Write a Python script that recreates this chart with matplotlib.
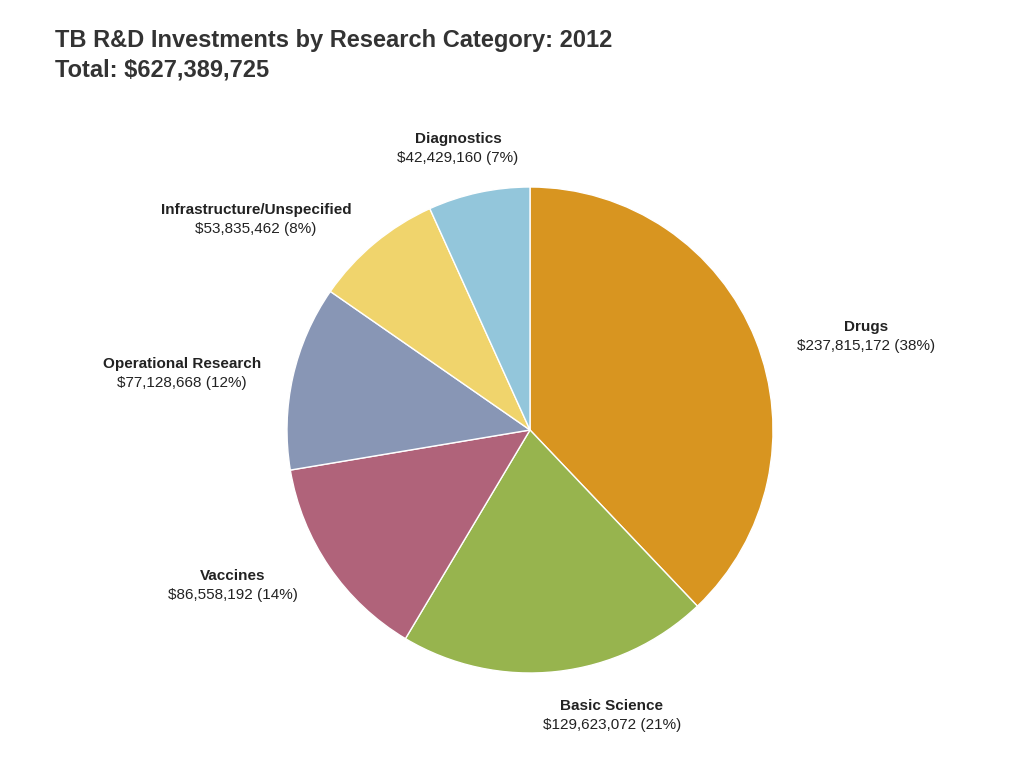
import matplotlib
matplotlib.use("Agg")
import matplotlib.pyplot as plt

plt.rcParams["font.family"] = "Liberation Sans"

categories = ["Drugs", "Basic Science", "Vaccines", "Operational Research",
              "Infrastructure/Unspecified", "Diagnostics"]
values = [237815172, 129623072, 86558192, 77128668, 53835462, 42429160]
percents = [38, 21, 14, 12, 8, 7]
colors = ["#D89520", "#97B44E", "#B0637A", "#8896B5", "#F0D46C", "#93C6DB"]
label_px = [(866, 327), (612, 706), (233, 576), (182, 364), (256, 210), (458, 139)]

W, H = 1024, 768
fig = plt.figure(figsize=(W/100, H/100), dpi=100)
cx, cy, r = 530, 430, 243
ax = fig.add_axes([(cx - r)/W, 1 - (cy + r)/H, 2*r/W, 2*r/H])
ax.pie(values, colors=colors, startangle=90, counterclock=False,
       wedgeprops=dict(edgecolor="white", linewidth=1.0))
ax.set_xlim(-1, 1); ax.set_ylim(-1, 1)
ax.set_aspect("auto")

for name, v, p, (x, y) in zip(categories, values, percents, label_px):
    fig.text(x/W, 1 - y/H, name, ha="center", va="center",
             fontsize=11, fontweight="bold", color="#222222")
    fig.text(x/W, 1 - (y + 19)/H, f"${v:,} ({p}%)", ha="center", va="center",
             fontsize=11, color="#222222")

fig.text(55/W, 1 - 40/H, "TB R&D Investments by Research Category: 2012",
         ha="left", va="center", fontsize=17, fontweight="bold", color="#333333")
fig.text(55/W, 1 - 70/H, "Total: $627,389,725",
         ha="left", va="center", fontsize=17, fontweight="bold", color="#333333")

fig.savefig("out.png", dpi=100)
